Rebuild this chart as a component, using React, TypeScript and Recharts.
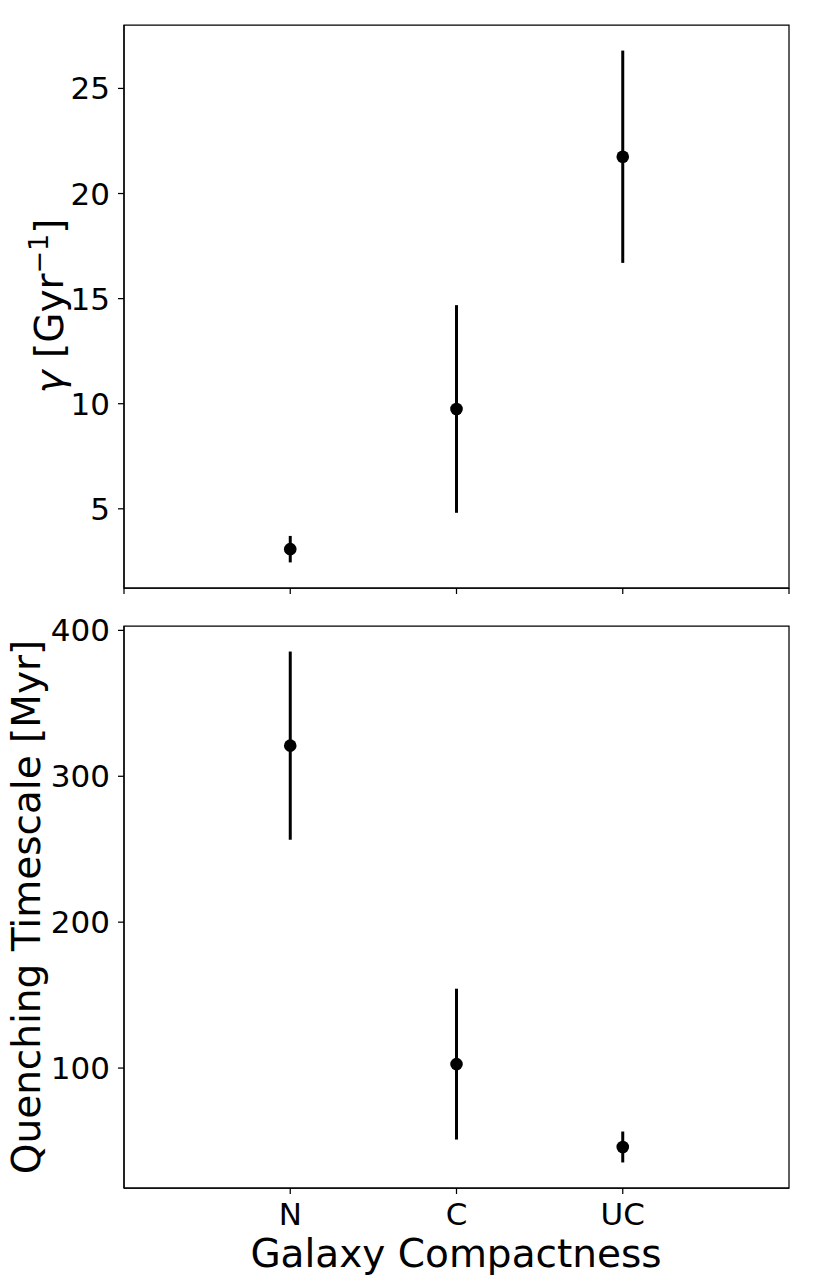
import React from 'react';
import { ScatterChart, Scatter, XAxis, YAxis, ErrorBar, ReferenceArea, Label } from 'recharts';

// categories on the shared x axis (placed at 0, 1, 2 with limits -1..3)
const categories = ['N', 'C', 'UC'];
const categoryPositions = [0, 1, 2];
const xLimits = [-1, 3];
const topXTicks = [-1, 0, 1, 2, 3];

// top panel: gamma [Gyr^-1]
const gammaValues = [3.08, 9.75, 21.75];
const gammaErrors = [0.63, 4.94, 5.05];
const gammaTicks = [5, 10, 15, 20, 25];

// bottom panel: quenching timescale [Myr]
const timescaleValues = [321.0, 102.7, 45.9];
const timescaleErrors = [64.5, 51.7, 10.6];
const timescaleTicks = [100, 200, 300, 400];

const FONT = '"DejaVu Sans", "Noto Sans", sans-serif';
const TICK_FONT = 31;
const LABEL_FONT = 39;
const SPINE = 1.25;

// matplotlib-style 5% margin around the error bars
const paddedDomain = (vals: number[], errs: number[]): [number, number] => {
  const lo = Math.min(...vals.map((v, i) => v - errs[i]));
  const hi = Math.max(...vals.map((v, i) => v + errs[i]));
  const pad = (hi - lo) * 0.05;
  return [lo - pad, hi + pad];
};

const gammaRows = categoryPositions.map((x, i) => ({ x, y: gammaValues[i], err: gammaErrors[i] }));
const timescaleRows = categoryPositions.map((x, i) => ({ x, y: timescaleValues[i], err: timescaleErrors[i] }));
const gammaDomain = paddedDomain(gammaValues, gammaErrors);
const timescaleDomain = paddedDomain(timescaleValues, timescaleErrors);

const Dot = (props: any) => <circle cx={props.cx} cy={props.cy} r={6.3} fill="#000" />;

const tickStyle = { fontSize: TICK_FONT, fontFamily: FONT, fill: '#000' };
const lineStyle = { stroke: '#000', strokeWidth: SPINE };

const GammaLabel = () => (
  <text
    transform="translate(63,306) rotate(-90)"
    textAnchor="middle"
    fontFamily={FONT}
    fontSize={LABEL_FONT}
    fill="#000"
  >
    <tspan fontStyle="italic">γ</tspan>
    <tspan>{' [Gyr'}</tspan>
    <tspan fontSize={27} dy={-15}>−1</tspan>
    <tspan dy={15}>]</tspan>
  </text>
);

const TimescaleLabel = () => (
  <text
    transform="translate(40,301) rotate(-90)"
    textAnchor="middle"
    fontFamily={FONT}
    fontSize={LABEL_FONT}
    fill="#000"
  >
    Quenching Timescale [Myr]
  </text>
);

const CompactnessLabel = () => (
  <text x={456} y={661} textAnchor="middle" fontFamily={FONT} fontSize={LABEL_FONT} fill="#000">
    Galaxy Compactness
  </text>
);

export default function App() {
  return (
    <div style={{ position: 'absolute', left: 0, top: 0, width: 830, height: 1278, background: '#fff' }}>
      <ScatterChart width={830} height={606} margin={{ top: 25, right: 41, bottom: 0, left: 0 }}>
        <XAxis
          type="number"
          dataKey="x"
          domain={xLimits}
          ticks={topXTicks}
          interval={0}
          allowDataOverflow
          height={18}
          tickSize={6}
          tickFormatter={() => ''}
          tick={tickStyle}
          axisLine={lineStyle}
          tickLine={lineStyle}
        />
        <YAxis
          type="number"
          dataKey="y"
          domain={gammaDomain}
          ticks={gammaTicks}
          interval={0}
          allowDataOverflow
          width={124}
          tickSize={6}
          tickMargin={8}
          tick={tickStyle}
          axisLine={lineStyle}
          tickLine={lineStyle}
        >
          <Label content={GammaLabel} />
        </YAxis>
        <ReferenceArea
          x1={xLimits[0]}
          x2={xLimits[1]}
          y1={gammaDomain[0]}
          y2={gammaDomain[1]}
          fill="none"
          stroke="#000"
          strokeWidth={SPINE}
          fillOpacity={0}
        />
        <Scatter data={gammaRows} dataKey="y" shape={Dot} isAnimationActive={false}>
          <ErrorBar dataKey="err" direction="y" width={0} stroke="#000" strokeWidth={3} isAnimationActive={false} />
        </Scatter>
      </ScatterChart>
      <ScatterChart width={830} height={672} margin={{ top: 20, right: 41, bottom: 0, left: 0 }}>
        <XAxis
          type="number"
          dataKey="x"
          domain={xLimits}
          ticks={categoryPositions}
          interval={0}
          allowDataOverflow
          height={90}
          tickSize={6}
          tickMargin={9}
          tickFormatter={(v: number) => categories[categoryPositions.indexOf(v)] ?? ''}
          tick={tickStyle}
          axisLine={lineStyle}
          tickLine={lineStyle}
        >
          <Label content={CompactnessLabel} />
        </XAxis>
        <YAxis
          type="number"
          dataKey="y"
          domain={timescaleDomain}
          ticks={timescaleTicks}
          interval={0}
          allowDataOverflow
          width={124}
          tickSize={6}
          tickMargin={8}
          tick={tickStyle}
          axisLine={lineStyle}
          tickLine={lineStyle}
        >
          <Label content={TimescaleLabel} />
        </YAxis>
        <ReferenceArea
          x1={xLimits[0]}
          x2={xLimits[1]}
          y1={timescaleDomain[0]}
          y2={timescaleDomain[1]}
          fill="none"
          stroke="#000"
          strokeWidth={SPINE}
          fillOpacity={0}
        />
        <Scatter data={timescaleRows} dataKey="y" shape={Dot} isAnimationActive={false}>
          <ErrorBar dataKey="err" direction="y" width={0} stroke="#000" strokeWidth={3} isAnimationActive={false} />
        </Scatter>
      </ScatterChart>
    </div>
  );
}
